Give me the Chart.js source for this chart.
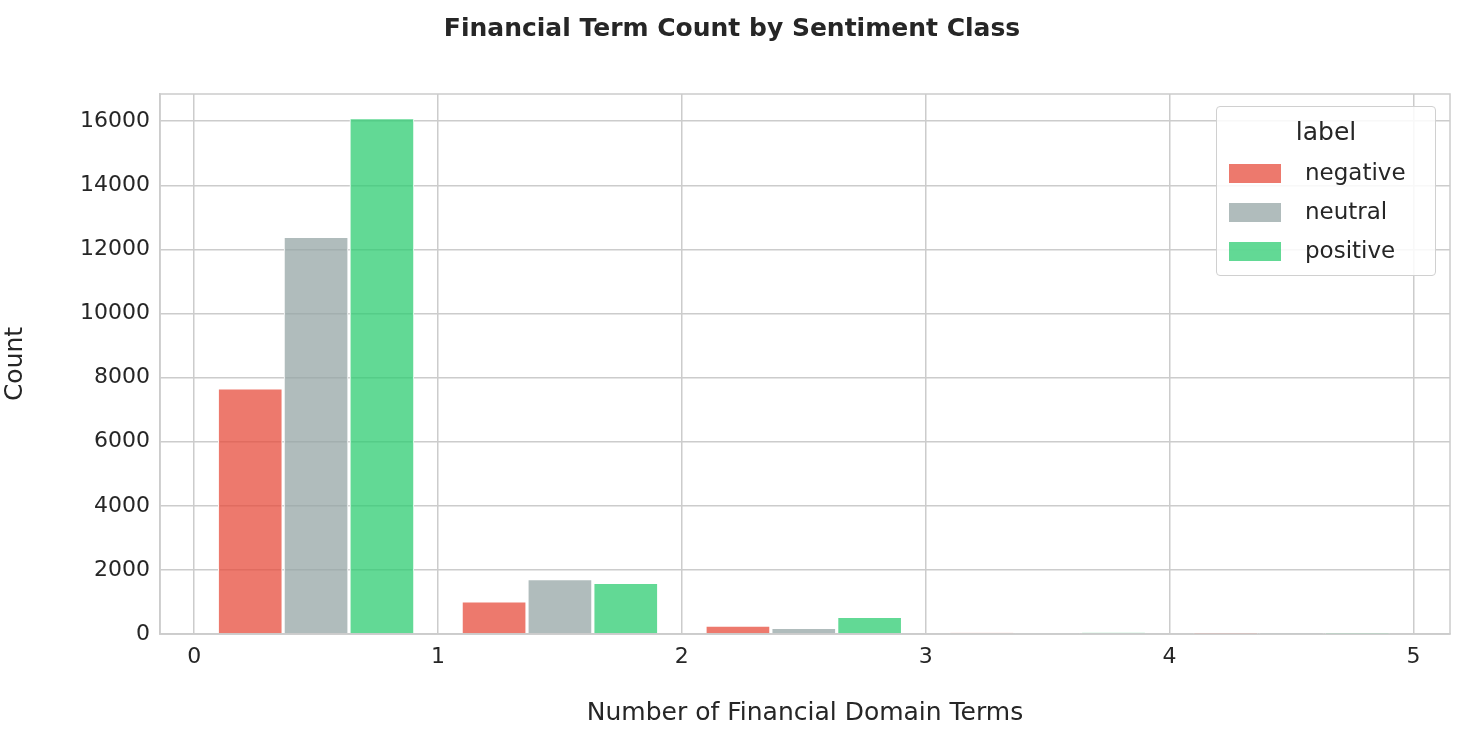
<!DOCTYPE html>
<html><head><meta charset="utf-8">
<script src="https://cdn.jsdelivr.net/npm/chart.js@4/dist/chart.umd.min.js"></script>
<style>
body{margin:0;background:#fff;font-family:"DejaVu Sans",sans-serif;}
#wrap{position:relative;width:1464px;height:732px;}
#title{position:absolute;top:13px;left:0;width:1464px;text-align:center;font-weight:bold;font-size:25px;color:#262626;}
#legend{position:absolute;left:1216px;top:106px;width:220px;height:170px;border:1.5px solid #d0d0d0;border-radius:4px;background:rgba(255,255,255,0.85);color:#262626;font-size:23px;box-sizing:border-box;}
#legend .h{position:absolute;top:10px;width:100%;text-align:center;font-size:25px;}
#legend .r{position:absolute;left:12px;height:30px;line-height:30px;}
#legend .r span{display:inline-block;width:52px;height:19px;vertical-align:middle;margin-right:24px;}
</style></head>
<body><div id="wrap"><canvas id="c" width="1464" height="732"></canvas>
<div id="title">Financial Term Count by Sentiment Class</div>
<div id="legend"><div class="h">label</div>
<div class="r" style="top:50px"><span style="background:rgba(231,76,60,0.75)"></span>negative</div>
<div class="r" style="top:89px"><span style="background:rgba(149,165,166,0.75)"></span>neutral</div>
<div class="r" style="top:128px"><span style="background:rgba(46,204,113,0.75)"></span>positive</div>
</div></div>
<script>
const bins=[0,1,2,3,4];
const negative=[7650,1000,250,30,5];
const neutral=[12380,1700,180,20,3];
const positive=[16080,1580,520,40,5];
const xTicks=[0,1,2,3,4,5];
const yTicks=[0,2000,4000,6000,8000,10000,12000,14000,16000];
const mk=(arr,off)=>arr.map((v,i)=>({x:bins[i]+off,y:v}));
new Chart(document.getElementById('c'),{
 type:'bar',
 data:{datasets:[
  {label:'negative',data:mk(negative,0.23),backgroundColor:'rgba(231,76,60,0.75)',borderColor:'#fff',borderWidth:1},
  {label:'neutral',data:mk(neutral,0.5),backgroundColor:'rgba(149,165,166,0.75)',borderColor:'#fff',borderWidth:1},
  {label:'positive',data:mk(positive,0.77),backgroundColor:'rgba(46,204,113,0.75)',borderColor:'#fff',borderWidth:1}
 ]},
 options:{responsive:false,animation:false,
  layout:{padding:{top:94,right:14,left:0,bottom:0}},
  plugins:{legend:{display:false},title:{display:false},tooltip:{enabled:false}},
  datasets:{bar:{barThickness:64,grouped:false}},
  scales:{
   x:{type:'linear',min:-0.14,max:5.15,offset:false,
    afterBuildTicks:s=>{s.ticks=xTicks.map(v=>({value:v}));},
    afterFit:s=>{s.height=98;},
    ticks:{font:{size:22,family:'DejaVu Sans'},color:'#262626',padding:10,callback:v=>String(v)},
    grid:{color:'#cccccc',lineWidth:1.5,drawTicks:false,offset:false},
    border:{color:'#cccccc',width:1.5},
    title:{display:true,text:'Number of Financial Domain Terms',font:{size:25,family:'DejaVu Sans'},color:'#262626',padding:{top:4}}},
   y:{min:0,max:16850,
    afterBuildTicks:s=>{s.ticks=yTicks.map(v=>({value:v}));},
    afterFit:s=>{s.width=160;},
    ticks:{font:{size:22,family:'DejaVu Sans'},color:'#262626',padding:10,callback:v=>String(v)},
    grid:{color:'#cccccc',lineWidth:1.5,drawTicks:false},
    border:{color:'#cccccc',width:1.5},
    title:{display:true,text:'Count',font:{size:25,family:'DejaVu Sans'},color:'#262626',padding:{top:0,bottom:0}}}
  }
 },
 plugins:[{id:'frame',afterDraw(c){const a=c.chartArea,x=c.ctx;x.save();x.strokeStyle='#cccccc';x.lineWidth=1.5;x.strokeRect(a.left,a.top,a.right-a.left,a.bottom-a.top);x.restore();}}]
});
</script></body></html>
